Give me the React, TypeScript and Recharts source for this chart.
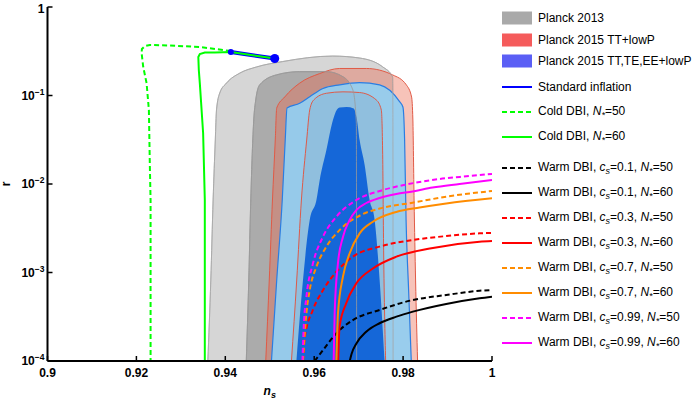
import React from 'react';
import { ComposedChart, Area, Line, XAxis, YAxis } from 'recharts';

const R_MIN = 1e-4;
const R_MAX = 1;
const nsTicks = [0.9, 0.92, 0.94, 0.96, 0.98, 1];
const rTicks = [1e-4, 1e-3, 1e-2, 1e-1, 1];

// Planck contours: upper edge of each region [ns, r], left to right (regions run off the bottom)
const planck13Outer: [number, number][] = [
  [0.93607, 1e-4], [0.93674, 8.22e-4], [0.93726, 6.59e-3], [0.93775, 0.0314], [0.93802, 0.0686],
  [0.93876, 0.107], [0.94027, 0.138], [0.94326, 0.179], [0.94701, 0.21], [0.95292, 0.242],
  [0.96416, 0.279], [0.97022, 0.265], [0.97539, 0.211], [0.97764, 0.162], [0.9777, 0.0686], [0.97775, 1e-4],
];
const planck13Inner: [number, number][] = [
  [0.94472, 1e-4], [0.94528, 8.22e-4], [0.94573, 6.59e-3], [0.9464, 0.0528], [0.94685, 0.089],
  [0.94775, 0.132], [0.95151, 0.171], [0.95674, 0.186], [0.96274, 0.186], [0.96647, 0.163],
  [0.96872, 0.115], [0.96948, 0.0489], [0.96955, 1e-4],
];
const planck15TTOuter: [number, number][] = [
  [0.9491, 1e-4], [0.94989, 8.22e-4], [0.95061, 6.59e-3], [0.95124, 0.0314], [0.95157, 0.0723],
  [0.95337, 0.0962], [0.95674, 0.138], [0.96124, 0.177], [0.96573, 0.202], [0.97173, 0.202],
  [0.97764, 0.171], [0.98072, 0.132], [0.98191, 0.0962], [0.9822, 0.0528], [0.98247, 6.59e-3],
  [0.98281, 8.22e-4], [0.98326, 1e-4],
];
const planck15TTInner: [number, number][] = [
  [0.95488, 1e-4], [0.95607, 8.22e-4], [0.95712, 6.59e-3], [0.95831, 0.0314], [0.95899, 0.0686],
  [0.95989, 0.089], [0.96274, 0.106], [0.96647, 0.11], [0.97022, 0.108], [0.97398, 0.089],
  [0.9751, 0.0686], [0.97539, 0.0242], [0.97562, 1.79e-3], [0.97607, 1e-4],
];
const planck15AllOuter: [number, number][] = [
  [0.95038, 1e-4], [0.95157, 8.22e-4], [0.95281, 6.59e-3], [0.95348, 0.0314], [0.95389, 0.0723],
  [0.95674, 0.0817], [0.95899, 0.0968], [0.96198, 0.12], [0.96573, 0.132], [0.97022, 0.14],
  [0.97472, 0.132], [0.97921, 0.0851], [0.97996, 0.0741], [0.98034, 0.0314], [0.98067, 3.92e-3],
  [0.98124, 6.34e-4], [0.98184, 1e-4],
];
const planck15AllInner: [number, number][] = [
  [0.956, 1e-4], [0.95748, 8.22e-4], [0.95899, 3.92e-3], [0.9605, 6.59e-3], [0.96124, 0.0111],
  [0.96274, 0.0242], [0.96422, 0.0528], [0.96506, 0.0686], [0.96573, 0.0731], [0.9673, 0.0741],
  [0.96888, 0.0713], [0.96955, 0.0557], [0.97022, 0.0314], [0.97135, 0.0164], [0.97247, 6.59e-3],
  [0.9736, 3.92e-3], [0.97472, 8.22e-4], [0.97584, 1e-4],
];

// model curves [ns, r]
const standardInflation: [number, number][] = [[0.94124, 0.31], [0.95112, 0.262]];
const coldN50: [number, number][] = [
  [0.94124, 0.318], [0.93427, 0.353], [0.92753, 0.367], [0.92303, 0.372], [0.92191, 0.362],
  [0.92124, 0.335], [0.92117, 0.302], [0.92153, 0.211], [0.92229, 0.138], [0.92281, 0.0686],
  [0.92303, 0.0157], [0.92319, 6.59e-3], [0.92319, 1e-4],
];
const coldN60: [number, number][] = [
  [0.95112, 0.262], [0.94124, 0.31], [0.93764, 0.306], [0.93539, 0.306], [0.93427, 0.294],
  [0.93393, 0.272], [0.93404, 0.194], [0.93427, 0.137], [0.93501, 0.0377], [0.93539, 6.59e-3],
  [0.93539, 1e-4],
];
const warm01N50: [number, number][] = [
  [0.9601, 1e-4], [0.962, 1.33e-4], [0.965, 2.06e-4], [0.9687, 2.9e-4], [0.9747, 3.77e-4],
  [0.9822, 4.89e-4], [0.9897, 5.57e-4], [0.9972, 6.22e-4], [1.0, 6.34e-4],
];
const warm01N60: [number, number][] = [
  [0.968, 1e-4], [0.9684, 1.2e-4], [0.9695, 1.58e-4], [0.9717, 2.14e-4], [0.9747, 2.67e-4],
  [0.9785, 3.17e-4], [0.9822, 3.61e-4], [0.9897, 4.41e-4], [0.9972, 5.11e-4], [1.0, 5.33e-4],
];
const warm03N50: [number, number][] = [
  [0.9575, 1e-4], [0.9579, 1.88e-4], [0.9597, 3.77e-4], [0.962, 6.34e-4], [0.965, 1.02e-3],
  [0.9687, 1.51e-3], [0.9747, 1.96e-3], [0.9822, 2.33e-3], [0.9897, 2.58e-3], [0.9972, 2.77e-3],
  [1.0, 2.8e-3],
];
const warm03N60: [number, number][] = [
  [0.9654, 1e-4], [0.9657, 2.44e-4], [0.9672, 4.49e-4], [0.9695, 7.55e-4], [0.9732, 1.11e-3],
  [0.9785, 1.51e-3], [0.986, 1.87e-3], [0.9972, 2.23e-3], [1.0, 2.27e-3],
];
const warm07N50: [number, number][] = [
  [0.95748, 1e-4], [0.95825, 3.46e-4], [0.95899, 6.34e-4], [0.9605, 1.16e-3], [0.96274, 1.96e-3],
  [0.96573, 3.02e-3], [0.97097, 4.58e-3], [0.97472, 5.28e-3], [0.98213, 6.15e-3], [0.98971, 7.19e-3],
  [1.0, 8.34e-3],
];
const warm07N60: [number, number][] = [
  [0.96499, 1e-4], [0.96535, 3.46e-4], [0.96647, 8.97e-4], [0.96798, 1.65e-3], [0.97022, 2.77e-3],
  [0.97321, 3.75e-3], [0.97847, 4.83e-3], [0.98371, 5.42e-3], [0.98971, 6.03e-3], [1.0, 6.89e-3],
];
const warm099N50: [number, number][] = [
  [0.95735, 1e-4], [0.95764, 2.44e-4], [0.95825, 5.33e-4], [0.95973, 1.27e-3], [0.96198, 2.54e-3],
  [0.96499, 4.27e-3], [0.96948, 6.59e-3], [0.97472, 8.34e-3], [0.98072, 9.86e-3], [0.9882, 0.0114],
  [0.99494, 0.0123], [1.0, 0.013],
];
const warm099N60: [number, number][] = [
  [0.96438, 1e-4], [0.9646, 3.48e-4], [0.96535, 1.28e-3], [0.96647, 2.52e-3], [0.96798, 3.92e-3],
  [0.96948, 5.08e-3], [0.97173, 6.1e-3], [0.97472, 6.95e-3], [0.97847, 7.71e-3], [0.98213, 8.22e-3],
  [0.98663, 9.12e-3], [0.9927, 0.01], [1.0, 0.0111],
];

type Entry = { label: string; color: string; mark: 'box' | 'solid' | 'dash'; cs?: string; n?: number };
const legendEntries: Entry[] = [
  { label: 'Planck 2013', color: '#a9a9a9', mark: 'box' },
  { label: 'Planck 2015 TT+lowP', color: '#f55b5b', mark: 'box' },
  { label: 'Planck 2015 TT,TE,EE+lowP', color: '#5b5ff5', mark: 'box' },
  { label: 'Standard inflation', color: '#0000ff', mark: 'solid' },
  { label: 'Cold DBI', n: 50, color: '#00ff00', mark: 'dash' },
  { label: 'Cold DBI', n: 60, color: '#00ff00', mark: 'solid' },
  { label: 'Warm DBI', cs: '0.1', n: 50, color: '#000000', mark: 'dash' },
  { label: 'Warm DBI', cs: '0.1', n: 60, color: '#000000', mark: 'solid' },
  { label: 'Warm DBI', cs: '0.3', n: 50, color: '#ff0000', mark: 'dash' },
  { label: 'Warm DBI', cs: '0.3', n: 60, color: '#ff0000', mark: 'solid' },
  { label: 'Warm DBI', cs: '0.7', n: 50, color: '#ff8c00', mark: 'dash' },
  { label: 'Warm DBI', cs: '0.7', n: 60, color: '#ff8c00', mark: 'solid' },
  { label: 'Warm DBI', cs: '0.99', n: 50, color: '#ff00ff', mark: 'dash' },
  { label: 'Warm DBI', cs: '0.99', n: 60, color: '#ff00ff', mark: 'solid' },
];

const rows = (pts: [number, number][]) => pts.map(([ns, r]) => ({ ns, r }));
const band = (pts: [number, number][]) => pts.map(([ns, r]) => ({ ns, r: [R_MIN, r] }));

const FONT = '"Liberation Sans", Arial, sans-serif';
const DASH = '5 3';

function RTick(props: any) {
  const { x, y, payload } = props;
  const e = Math.round(Math.log10(payload.value));
  return (
    <text x={x} y={y} dy={4} textAnchor="end" fontSize={12} fontWeight={700} fill="#000" fontFamily={FONT}>
      {e === 0 ? '1' : <>10<tspan dy={-5} fontSize={8.5}>{'\u2212' + -e}</tspan></>}
    </text>
  );
}

function Sub({ base, sub }: { base: string; sub: string }) {
  return (
    <span>
      <i>{base}</i>
      <i style={{ fontSize: 9, verticalAlign: '-3px' }}>{sub}</i>
    </span>
  );
}

function ChartLegend() {
  const centers = [18, 40, 61, 87, 112, 137, 168, 193, 218, 243, 268, 293, 318, 343];
  return (
    <div style={{ position: 'absolute', left: 502, top: 0, fontFamily: FONT, fontSize: 12, color: '#000' }}>
      {legendEntries.map((it, i) => (
        <div key={i} style={{ position: 'absolute', top: centers[i] - 8, left: 0, height: 16, display: 'flex', alignItems: 'center', whiteSpace: 'nowrap' }}>
          <svg width={30} height={16} style={{ flex: 'none' }}>
            {it.mark === 'box' ? (
              <rect x={0} y={1.5} width={30} height={13} fill={it.color} />
            ) : (
              <line x1={0} x2={30} y1={8} y2={8} stroke={it.color} strokeWidth={2} strokeDasharray={it.mark === 'dash' ? DASH : undefined} />
            )}
          </svg>
          <span style={{ marginLeft: 6 }}>
            {it.label}
            {it.cs !== undefined && <>, <Sub base="c" sub="s" />={it.cs}</>}
            {it.n !== undefined && <>, <Sub base="N" sub="*" />={it.n}</>}
          </span>
        </div>
      ))}
    </div>
  );
}

export default function App() {
  const axisLine = { stroke: '#000', strokeWidth: 2 };
  const series: { pts: [number, number][]; color: string; dash?: boolean }[] = [
    { pts: warm01N50, color: '#000000', dash: true },
    { pts: warm01N60, color: '#000000' },
    { pts: warm03N50, color: '#ff0000', dash: true },
    { pts: warm03N60, color: '#ff0000' },
    { pts: warm07N50, color: '#ff8c00', dash: true },
    { pts: warm07N60, color: '#ff8c00' },
    { pts: warm099N50, color: '#ff00ff', dash: true },
    { pts: warm099N60, color: '#ff00ff' },
  ];
  return (
    <div style={{ position: 'absolute', left: 0, top: 0, width: 700, height: 400, background: '#fff', fontFamily: FONT }}>
      <ComposedChart width={700} height={400} margin={{ top: 7, right: 208, bottom: 0, left: 0 }}>
        <Area data={band(planck13Outer)} dataKey="r" type="monotone" fill="#d6d6d6" fillOpacity={1} stroke="#b8b8b8" strokeWidth={1} isAnimationActive={false} />
        <Area data={band(planck13Inner)} dataKey="r" type="monotone" fill="#ababab" fillOpacity={1} stroke="#9e9e9e" strokeWidth={1} isAnimationActive={false} />
        <Area data={band(planck15TTOuter)} dataKey="r" type="monotone" fill="#ec6a50" fillOpacity={0.4} stroke="#e05a46" strokeWidth={1} isAnimationActive={false} />
        <Area data={band(planck15AllOuter)} dataKey="r" type="monotone" fill="#94cdef" fillOpacity={0.95} stroke="#2a7de2" strokeWidth={1.2} isAnimationActive={false} />
        <Area data={band(planck15TTInner)} dataKey="r" type="monotone" fill="#8fbedd" fillOpacity={0.95} stroke="#dd5a48" strokeWidth={1} isAnimationActive={false} />
        <Area data={band(planck15AllInner)} dataKey="r" type="monotone" fill="#1567d8" fillOpacity={1} stroke="none" isAnimationActive={false} />
        <Area data={band(planck13Outer)} dataKey="r" type="monotone" fill="none" stroke="#a8a8a8" strokeOpacity={0.8} strokeWidth={1} isAnimationActive={false} />
        <Area data={band(planck13Inner)} dataKey="r" type="monotone" fill="none" stroke="#9a9a9a" strokeOpacity={0.8} strokeWidth={1} isAnimationActive={false} />

        {series.map((s, i) => (
          <Line key={i} data={rows(s.pts)} dataKey="r" type="monotone" stroke={s.color} strokeWidth={2} strokeDasharray={s.dash ? DASH : undefined} dot={false} isAnimationActive={false} />
        ))}

        <Line data={rows(standardInflation)} dataKey="r" type="linear" stroke="#0000ff" strokeWidth={4} dot={false} isAnimationActive={false} />
        <Line data={rows(coldN50)} dataKey="r" type="linear" stroke="#00ff00" strokeWidth={2} strokeDasharray={DASH} dot={false} isAnimationActive={false} />
        <Line data={rows(coldN60)} dataKey="r" type="linear" stroke="#00ff00" strokeWidth={2} dot={false} isAnimationActive={false} />
        <Line
          data={rows(standardInflation)}
          dataKey="r"
          type="linear"
          stroke="none"
          dot={(p: any) => <circle key={p.index} cx={p.cx} cy={p.cy} r={p.index === 0 ? 3 : 4.5} fill="#0000ff" />}
          isAnimationActive={false}
        />

        <XAxis
          dataKey="ns"
          type="number"
          domain={[0.9, 1]}
          ticks={nsTicks}
          allowDataOverflow
          height={39}
          tickFormatter={(v: number) => String(+v.toFixed(2))}
          tickSize={-5}
          tickMargin={12}
          tick={{ fill: '#000', fontSize: 12, fontWeight: 700, fontFamily: FONT }}
          tickLine={{ stroke: '#000', strokeWidth: 1.5 }}
          axisLine={axisLine}
          label={{
            content: (p: any) => {
              const vb = p.viewBox;
              return (
                <text x={vb.x + vb.width / 2} y={vb.y + vb.height - 5} textAnchor="middle" fontSize={12} fontWeight={700} fontFamily={FONT} fill="#000">
                  <tspan fontStyle="italic">n</tspan>
                  <tspan fontStyle="italic" fontSize={9} dy={3}>s</tspan>
                </text>
              );
            },
          }}
        />
        <YAxis
          type="number"
          scale="log"
          domain={[R_MIN, R_MAX]}
          ticks={rTicks}
          allowDataOverflow
          width={47.5}
          tick={(p: any) => <RTick {...p} />}
          tickSize={-5}
          tickMargin={8}
          tickLine={{ stroke: '#000', strokeWidth: 1.5 }}
          axisLine={axisLine}
          label={{
            content: (p: any) => {
              const vb = p.viewBox;
              const cy = vb.y + vb.height / 2;
              return (
                <text x={10} y={cy} textAnchor="middle" fontSize={12} fontWeight={700} fontFamily={FONT} fill="#000" transform={`rotate(-90 10 ${cy})`}>
                  r
                </text>
              );
            },
          }}
        />
        <XAxis xAxisId="top" orientation="top" dataKey="ns" type="number" domain={[0.9, 1]} allowDataOverflow height={0} tick={false} tickLine={false} axisLine={axisLine} />
        <YAxis yAxisId="right" orientation="right" type="number" scale="log" domain={[R_MIN, R_MAX]} allowDataOverflow width={0} tick={false} tickLine={false} axisLine={axisLine} />
      </ComposedChart>
      <ChartLegend />
    </div>
  );
}
